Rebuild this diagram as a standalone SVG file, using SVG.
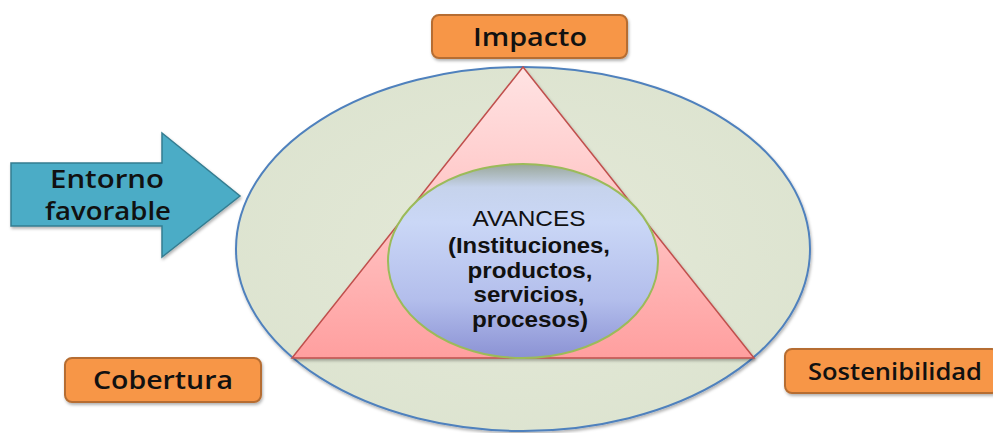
<svg xmlns="http://www.w3.org/2000/svg" width="993" height="433" viewBox="0 0 993 433">
<defs>
<linearGradient id="triG" x1="0" y1="0" x2="0" y2="1">
<stop offset="0" stop-color="#FFE3E3"/>
<stop offset="0.5" stop-color="#FFC4C4"/>
<stop offset="1" stop-color="#FF9F9F"/>
</linearGradient>
<linearGradient id="inG" x1="0" y1="0" x2="0" y2="1">
<stop offset="0" stop-color="#9AA79A"/>
<stop offset="0.12" stop-color="#C6D3EC"/>
<stop offset="0.3" stop-color="#CAD7F6"/>
<stop offset="0.7" stop-color="#B3BEEC"/>
<stop offset="1" stop-color="#8B92D4"/>
</linearGradient>
<radialGradient id="bigG" cx="0.5" cy="0.5" r="0.6">
<stop offset="0" stop-color="#E4E9D8"/>
<stop offset="1" stop-color="#DCE3CF"/>
</radialGradient>
<filter id="sh" x="-10%" y="-10%" width="120%" height="130%">
<feDropShadow dx="1" dy="2" stdDeviation="1.5" flood-color="#000" flood-opacity="0.3"/>
</filter>
</defs>
<style>
.box{fill:#F79646;stroke:#B66D31;stroke-width:2}
.lbl{font-family:"Open Sans","Liberation Sans",sans-serif;font-size:25px;font-weight:600;fill:#111;text-anchor:middle}
.av{font-family:"Liberation Sans",Arial,sans-serif;font-size:22px;fill:#111;text-anchor:middle;font-weight:bold}
</style>
<g id="outer">
<ellipse cx="523" cy="249" rx="287" ry="182" fill="url(#bigG)" stroke="#4F81BD" stroke-width="2" filter="url(#sh)"/>
</g>
<g id="triangle">
<polygon points="523,67 292,358 754,358" fill="url(#triG)" stroke="#C0504D" stroke-width="1.5" filter="url(#sh)"/>
</g>
<g id="avances">
<ellipse cx="523" cy="261" rx="135" ry="97" fill="url(#inG)" stroke="#9BBB59" stroke-width="2"/>
<text class="av" x="529" y="226" style="font-weight:normal" textLength="113" lengthAdjust="spacingAndGlyphs">AVANCES</text>
<text class="av" x="529" y="253" textLength="162" lengthAdjust="spacingAndGlyphs">(Instituciones,</text>
<text class="av" x="530" y="278" textLength="125" lengthAdjust="spacingAndGlyphs">productos,</text>
<text class="av" x="529" y="302" textLength="111" lengthAdjust="spacingAndGlyphs">servicios,</text>
<text class="av" x="530" y="327" textLength="116" lengthAdjust="spacingAndGlyphs">procesos)</text>
</g>
<g id="arrow">
<polygon points="11,163 162,163 162,133 240,196 162,257 162,226 11,226" fill="#4BACC6" stroke="#357D91" stroke-width="1.5" filter="url(#sh)"/>
<text class="lbl" x="107" y="188" textLength="114" lengthAdjust="spacingAndGlyphs">Entorno</text>
<text class="lbl" x="108" y="220" textLength="126" lengthAdjust="spacingAndGlyphs">favorable</text>
</g>
<g id="impacto">
<rect class="box" x="432" y="15" width="195" height="43" rx="7" filter="url(#sh)"/>
<text class="lbl" x="530" y="46" textLength="114" lengthAdjust="spacingAndGlyphs">Impacto</text>
</g>
<g id="cobertura">
<rect class="box" x="65" y="358" width="196" height="44" rx="7" filter="url(#sh)"/>
<text class="lbl" x="163" y="389" textLength="140" lengthAdjust="spacingAndGlyphs">Cobertura</text>
</g>
<g id="sostenibilidad">
<rect class="box" x="785" y="349" width="214" height="44" rx="7" filter="url(#sh)"/>
<text class="lbl" x="895" y="380" style="font-size:23px" textLength="174" lengthAdjust="spacingAndGlyphs">Sostenibilidad</text>
</g>
<g id="connectors"/>
</svg>
